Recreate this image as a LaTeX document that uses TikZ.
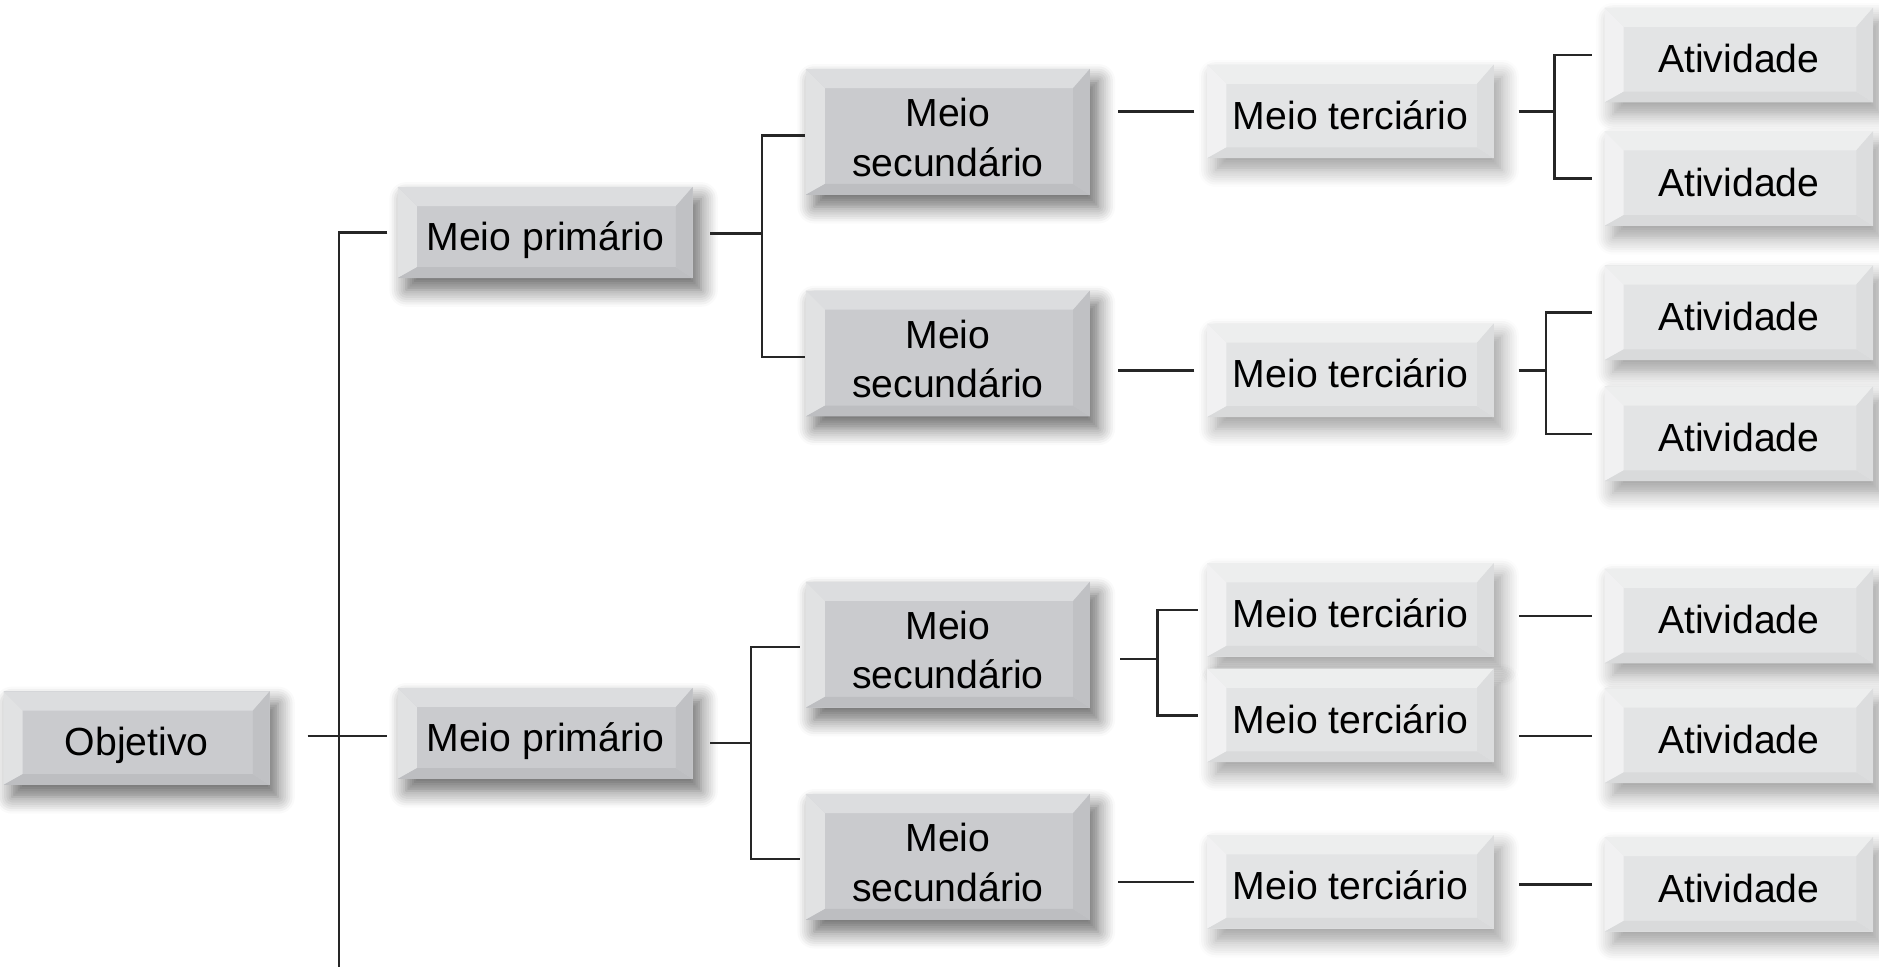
\documentclass[tikz,border=0pt]{standalone}
\usepackage{fontspec}
\setmainfont{Liberation Sans}
\usetikzlibrary{calc}
\usetikzlibrary{shadows.blur}

\definecolor{dface}{HTML}{CACBCE}
\definecolor{dtop}{HTML}{DCDDDF}
\definecolor{dleft}{HTML}{E1E2E3}
\definecolor{dbot}{HTML}{BDBEC1}
\definecolor{dright}{HTML}{C0C1C4}
\definecolor{lface}{HTML}{E3E4E5}
\definecolor{ltop}{HTML}{EDEEEE}
\definecolor{lleft}{HTML}{F1F1F2}
\definecolor{lbot}{HTML}{D9DADB}
\definecolor{lright}{HTML}{DCDDDE}
\newcommand\bvt{0.16cm}
\newcommand\bvl{0.16cm}
\newcommand\bvr{0.14cm}
\newcommand\bvb{0.09cm}

\tikzset{
 bev/.style n args={5}{fill=#1, path picture={
  \coordinate (bnw) at (path picture bounding box.north west);
  \coordinate (bne) at (path picture bounding box.north east);
  \coordinate (bsw) at (path picture bounding box.south west);
  \coordinate (bse) at (path picture bounding box.south east);
  \fill[#2] (bnw) -- (bne) -- ($(bne)+(-\bvr,-\bvt)$) -- ($(bnw)+(\bvl,-\bvt)$) -- cycle;
  \fill[#3] (bnw) -- ($(bnw)+(\bvl,-\bvt)$) -- ($(bsw)+(\bvl,\bvb)$) -- (bsw) -- cycle;
  \fill[#4] (bsw) -- (bse) -- ($(bse)+(-\bvr,\bvb)$) -- ($(bsw)+(\bvl,\bvb)$) -- cycle;
  \fill[#5] (bne) -- (bse) -- ($(bse)+(-\bvr,\bvb)$) -- ($(bne)+(-\bvr,-\bvt)$) -- cycle;
 }},
 box/.style={inner sep=0, align=center, text=black,
  font=\fontsize{9.3}{11.7}\selectfont, text height=.84em, text depth=0pt},
 darkbox/.style={box, bev={dface}{dtop}{dleft}{dbot}{dright},
  blur shadow={shadow xshift=0.07cm, shadow yshift=-0.1cm, shadow blur radius=0.14cm, shadow blur steps=8, shadow opacity=60}},
 lightbox/.style={box, bev={lface}{ltop}{lleft}{lbot}{lright},
  blur shadow={shadow xshift=0.07cm, shadow yshift=-0.1cm, shadow blur radius=0.14cm, shadow blur steps=8, shadow opacity=38}},
 link/.style={line width=.6pt, black!85}
}

\begin{document}
\begin{tikzpicture}[x=0.01cm, y=-0.01cm]
\useasboundingbox (0,0) rectangle (1568,807);
\node[darkbox, minimum width=2.22cm, minimum height=0.78cm] (obj) at (114,616) {Objetivo};
\foreach \n/\y in {mp1/194, mp2/612}
 \node[darkbox, minimum width=2.46cm, minimum height=0.76cm] (\n) at (455,\y) {Meio primário};
\foreach \n/\y in {ms1/110, ms2/295, ms3/538, ms4/715}
 \node[darkbox, minimum width=2.37cm, minimum height=1.05cm, text height=21pt] (\n) at (791,\y) {Meio\\secundário};
\foreach \n/\y in {mt1/93, mt2/309, mt3/509, mt4/597, mt5/736}
 \node[lightbox, minimum width=2.39cm, minimum height=0.78cm] (\n) at (1127,\y) {Meio terciário};
\foreach \n/\y in {a1/46, a2/149, a3/261, a4/362, a5/514, a6/614, a7/738}
 \node[lightbox, minimum width=2.24cm, minimum height=0.79cm] (\n) at (1451,\y) {Atividade};

\coordinate (tr) at (283,807);
\draw[link] ($(obj.east |- mp2.west)+(31,2)$) -- ($(mp2.west)+(-8,2)$);
\draw[link] ($(mp1.west)+(-8,0)$) -| (tr);
\draw[link] ($(mp1.east)+(14,1)$) -- ++(43,0) coordinate (k1);
\foreach \s in {ms1,ms2} \draw[link] (k1) |- ($(\s.west)+(0,3)$);
\draw[link] ($(mp2.east)+(14,8)$) -- ++(34,0) coordinate (k2);
\foreach \s in {ms3,ms4} \draw[link] (k2) |- ($(\s.west)+(-4,2)$);
\foreach \s/\t in {ms1/mt1, ms2/mt2, ms4/mt5}
 \draw[link] ($(\t.west)+(-10,0)$) -- ($(\t.west -| \s.east)+(23,0)$);
\coordinate (k3) at ($(mt3.west)!.5!(mt4.west)+(-41,-3)$);
\draw[link] (k3) -- ++(-31,0);
\foreach \t in {mt3,mt4} \draw[link] (k3) |- ($(\t.west)+(-7,0)$);
\draw[link] ($(mt1.east)+(20,0)$) -- ++(30,0) coordinate (k4);
\foreach \a in {a1,a2} \draw[link] (k4) |- ($(\a.west)+(-10,0)$);
\draw[link] ($(mt2.east)+(20,0)$) -- ++(23,0) coordinate (k5);
\foreach \a in {a3,a4} \draw[link] (k5) |- ($(\a.west)+(-10,0)$);
\foreach \t/\a in {mt3/a5, mt4/a6, mt5/a7}
 \draw[link] ($(\a.west)+(-10,0)$) -- ($(\a.west -| \t.east)+(20,0)$);
\end{tikzpicture}
\end{document}
